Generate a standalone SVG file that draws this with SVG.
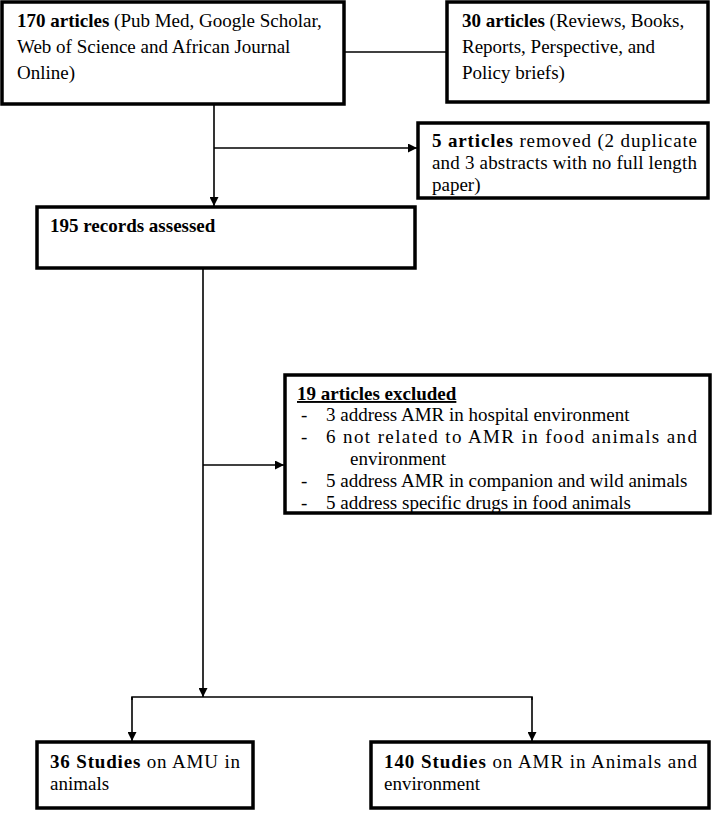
<svg xmlns="http://www.w3.org/2000/svg" width="712" height="818" viewBox="0 0 712 818">
<defs>
<style>
.box{fill:#fff;stroke:#000;stroke-width:3.5}
.ln{fill:none;stroke:#000;stroke-width:1.6}
text{font-family:"Liberation Serif","Times New Roman",serif;font-size:19px;fill:#000}
.b{font-weight:bold}
</style>
<marker id="ah" viewBox="0 0 10 10" refX="10" refY="5" markerWidth="9" markerHeight="9" markerUnits="userSpaceOnUse" orient="auto"><path d="M0,0L10,5L0,10z" fill="#000"/></marker>
</defs>
<g id="connectors">
<line class="ln" x1="344" y1="52" x2="447" y2="52"/>
<line class="ln" x1="214" y1="105" x2="214" y2="206" marker-end="url(#ah)"/>
<line class="ln" x1="214" y1="148" x2="417" y2="148" marker-end="url(#ah)"/>
<line class="ln" x1="203" y1="269" x2="203" y2="697" marker-end="url(#ah)"/>
<line class="ln" x1="203" y1="465" x2="284" y2="465" marker-end="url(#ah)"/>
<polyline class="ln" points="132,700 132,697 532,697 532,700"/>
<line class="ln" x1="132" y1="697" x2="132" y2="741" marker-end="url(#ah)"/>
<line class="ln" x1="532" y1="697" x2="532" y2="741" marker-end="url(#ah)"/>
</g>
<g id="n1"><rect class="box" x="2" y="2" width="342" height="102"/>
<text x="17" y="27"><tspan class="b">170 articles</tspan> (Pub Med, Google Scholar,</text>
<text x="17" y="53">Web of Science and African Journal</text>
<text x="17" y="79">Online)</text></g>
<g id="n2"><rect class="box" x="447" y="2" width="261" height="100"/>
<text x="462" y="27"><tspan class="b">30 articles</tspan> (Reviews, Books,</text>
<text x="462" y="53">Reports, Perspective, and</text>
<text x="462" y="79">Policy briefs)</text></g>
<g id="n3"><rect class="box" x="418" y="123" width="290" height="75"/>
<text x="432" y="147" textLength="265" lengthAdjust="spacing"><tspan class="b">5 articles</tspan> removed (2 duplicate</text>
<text x="432" y="169" textLength="265" lengthAdjust="spacing">and 3 abstracts with no full length</text>
<text x="432" y="191">paper)</text></g>
<g id="n4"><rect class="box" x="37" y="207" width="378" height="61"/>
<text x="50" y="232" class="b">195 records assessed</text></g>
<g id="n5"><rect class="box" x="285" y="375" width="425" height="138"/>
<text x="297" y="400" class="b" text-decoration="underline">19 articles excluded</text>
<text x="301" y="421">-</text><text x="326" y="421">3 address AMR in hospital environment</text>
<text x="301" y="443">-</text><text x="326" y="443" textLength="371" lengthAdjust="spacing">6 not related to AMR in food animals and</text>
<text x="350" y="465">environment</text>
<text x="301" y="487">-</text><text x="326" y="487">5 address AMR in companion and wild animals</text>
<text x="301" y="509">-</text><text x="326" y="509">5 address specific drugs in food animals</text></g>
<g id="n6"><rect class="box" x="37" y="742" width="216" height="66"/>
<text x="50" y="768" textLength="190" lengthAdjust="spacing"><tspan class="b">36 Studies</tspan> on AMU in</text>
<text x="50" y="790">animals</text></g>
<g id="n7"><rect class="box" x="371" y="742" width="338" height="66"/>
<text x="384" y="768" textLength="313" lengthAdjust="spacing"><tspan class="b">140 Studies</tspan> on AMR in Animals and</text>
<text x="384" y="790">environment</text></g>
</svg>
